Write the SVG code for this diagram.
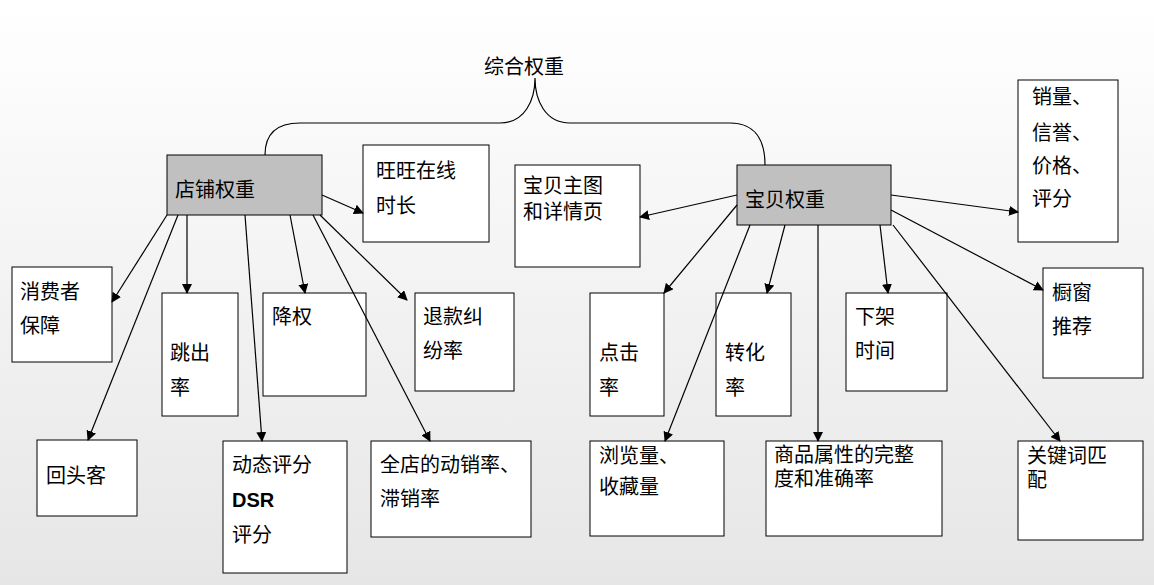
<svg xmlns="http://www.w3.org/2000/svg" width="1154" height="585" viewBox="0 0 1154 585">
<defs>
<linearGradient id="bg" x1="0" y1="0" x2="0" y2="1"><stop offset="0" stop-color="#ffffff"/><stop offset="1" stop-color="#e6e6e6"/></linearGradient>
<marker id="ah" markerWidth="10" markerHeight="10" refX="9" refY="5" orient="auto" markerUnits="userSpaceOnUse"><path d="M0,0 L10,5 L0,10 z" fill="#000"/></marker>
<style>
.b{fill:#fff;stroke:#000;stroke-width:1}
.g{fill:#c0c0c0;stroke:#000;stroke-width:1}
text{font-family:"Noto Sans CJK SC","Noto Sans",sans-serif;font-size:20px;fill:#000}
.c line{stroke:#000;stroke-width:1.2;marker-end:url(#ah)}
</style>
</defs>
<rect width="1154" height="585" fill="url(#bg)"/>
<g id="root"><text x="484" y="74">综合权重</text></g>
<g id="brace"><path d="M265,155 C265,135 275,123 300,123 L500,123 C525,123 535,100 535,78 C535,100 545,123 570,123 L730,123 C755,123 765,140 765,165" fill="none" stroke="#000" stroke-width="1.2"/></g>
<g id="n-shop"><rect class="g" x="167" y="155" width="155" height="60"/><text x="175" y="197">店铺权重</text></g>
<g id="n-ww"><rect class="b" x="363" y="145" width="126" height="97"/><text x="376" y="178">旺旺在线</text><text x="376" y="213">时长</text></g>
<g id="n-pic"><rect class="b" x="515" y="165" width="125" height="102"/><text x="523" y="193">宝贝主图</text><text x="523" y="219">和详情页</text></g>
<g id="n-item"><rect class="g" x="737" y="165" width="154" height="60"/><text x="745" y="207">宝贝权重</text></g>
<g id="n-sales"><rect class="b" x="1018" y="80" width="100" height="162"/><text x="1032" y="104">销量、</text><text x="1032" y="140">信誉、</text><text x="1032" y="173">价格、</text><text x="1032" y="206">评分</text></g>
<g id="n-xf"><rect class="b" x="12" y="267" width="100" height="95"/><text x="20" y="299">消费者</text><text x="20" y="333">保障</text></g>
<g id="n-tc"><rect class="b" x="162" y="293" width="76" height="123"/><text x="170" y="360">跳出</text><text x="170" y="395">率</text></g>
<g id="n-jq"><rect class="b" x="263" y="293" width="103" height="103"/><text x="272" y="324">降权</text></g>
<g id="n-tk"><rect class="b" x="415" y="293" width="99" height="98"/><text x="423" y="324">退款纠</text><text x="423" y="358">纷率</text></g>
<g id="n-dj"><rect class="b" x="590" y="293" width="74" height="123"/><text x="599" y="360">点击</text><text x="599" y="395">率</text></g>
<g id="n-zh"><rect class="b" x="716" y="293" width="75" height="123"/><text x="725" y="360">转化</text><text x="725" y="395">率</text></g>
<g id="n-xj"><rect class="b" x="846" y="293" width="101" height="98"/><text x="855" y="324">下架</text><text x="855" y="358">时间</text></g>
<g id="n-cc"><rect class="b" x="1043" y="268" width="100" height="110"/><text x="1052" y="300">橱窗</text><text x="1052" y="334">推荐</text></g>
<g id="n-ht"><rect class="b" x="37" y="440" width="100" height="76"/><text x="46" y="483">回头客</text></g>
<g id="n-dsr"><rect class="b" x="223" y="441" width="124" height="132"/><text x="232" y="472">动态评分</text><text x="232" y="507" style="font-family:'Liberation Sans',sans-serif;font-weight:bold">DSR</text><text x="232" y="542">评分</text></g>
<g id="n-dx"><rect class="b" x="371" y="441" width="160" height="96"/><text x="380" y="472">全店的动销率、</text><text x="380" y="506">滞销率</text></g>
<g id="n-ll"><rect class="b" x="590" y="441" width="134" height="95"/><text x="599" y="463">浏览量、</text><text x="599" y="494">收藏量</text></g>
<g id="n-sp"><rect class="b" x="766" y="441" width="176" height="95"/><text x="774" y="462">商品属性的完整</text><text x="774" y="486">度和准确率</text></g>
<g id="n-gj"><rect class="b" x="1018" y="441" width="125" height="99"/><text x="1027" y="463">关键词匹</text><text x="1027" y="487">配</text></g>
<g class="c" id="connectors">
<line x1="167" y1="215" x2="112" y2="302"/>
<line x1="178" y1="215" x2="88" y2="440"/>
<line x1="187" y1="215" x2="187" y2="293"/>
<line x1="245" y1="215" x2="262" y2="441"/>
<line x1="290" y1="215" x2="305" y2="293"/>
<line x1="313" y1="215" x2="430" y2="441"/>
<line x1="320" y1="215" x2="407" y2="300"/>
<line x1="322" y1="195" x2="363" y2="213"/>
<line x1="737" y1="195" x2="640" y2="217"/>
<line x1="737" y1="205" x2="664" y2="293"/>
<line x1="750" y1="225" x2="665" y2="441"/>
<line x1="785" y1="225" x2="767" y2="293"/>
<line x1="818" y1="225" x2="818" y2="441"/>
<line x1="880" y1="225" x2="888" y2="293"/>
<line x1="893" y1="225" x2="1060" y2="441"/>
<line x1="891" y1="210" x2="1043" y2="290"/>
<line x1="891" y1="195" x2="1018" y2="212"/>
</g>
</svg>
